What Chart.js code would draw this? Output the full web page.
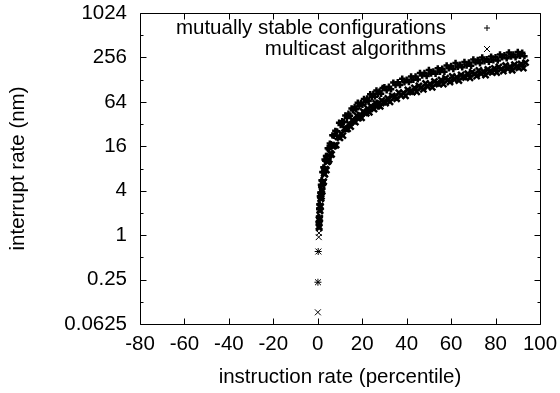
<!DOCTYPE html>
<html>
<head>
<meta charset="utf-8">
<style>
  body { margin: 0; background: #fff; }
  canvas { display: block; }
</style>
</head>
<body>
<canvas id="myChart" width="560" height="393"></canvas>
<script src="https://cdn.jsdelivr.net/npm/chart.js"></script>
<script>
  // mutually stable configurations (upper band, "+")
  const stableX = [0.07, 0.19,
    0.45, 0.5, 0.55, 0.6, 0.66, 0.73, 0.8, 0.88, 0.97, 1.07, 1.18, 1.3, 1.43, 1.57, 1.73, 1.9,
    2.09, 2.3, 2.53, 2.78, 3.06, 3.37, 3.7, 4.07, 4.48, 4.93, 5.42, 5.96, 6.56, 7.2, 7.9, 8.7, 9.6,
    10.3, 11.0, 11.7, 12.4, 13.1, 13.8, 14.5, 15.2, 15.9, 16.6, 17.3, 18.0, 18.7, 19.4, 20.1,
    20.8, 21.5, 22.2, 22.9, 23.6, 24.3, 25.0, 25.7, 26.4, 27.1, 27.8, 28.5, 29.2,
    30, 31, 32, 33, 34, 35, 36, 37, 38, 39, 40, 41, 42, 43, 44, 45, 46, 47, 48, 49,
    50, 51, 52, 53, 54, 55, 56, 57, 58, 59, 60, 61, 62, 63, 64, 65, 66, 67, 68, 69,
    70, 71, 72, 73, 74, 75, 76, 77, 78, 79, 80, 81, 82, 83, 84, 85, 86, 87, 88, 89,
    90, 91, 92, 93];
  const stableY = [0.23, 0.6,
    1.52, 1.48, 1.77, 1.72, 2.27, 2.25, 2.62, 2.58, 3.36, 3.24, 3.75, 3.77, 4.82, 4.65, 5.56, 5.45,
    7.18, 7.1, 8.29, 8.14, 10.6, 10.2, 11.8, 11.8, 15.1, 14.6, 17.4, 17.1, 22.5, 22.2, 25.9, 25.5, 33.3,
    31.1, 35.0, 33.9, 41.8, 38.8, 44.3, 41.6, 52.2, 49.1, 54.4, 50.7, 62.4, 56.5, 61.7, 58.2,
    70.1, 63.7, 71.3, 65.6, 81.0, 75.0, 81.9, 75.3, 91.5, 82.0, 88.5, 82.6, 98.4,
    101.1, 91.8, 102.8, 94.6, 116.7, 108.0, 117.9, 108.4, 131.7, 117.9, 127.3, 118.8, 141.6, 127.3, 141.4, 129.0, 157.9, 145.1, 157.2, 143.5,
    173.3, 154.2, 165.4, 153.6, 182.0, 162.9, 179.9, 163.4, 199.1, 182.1, 196.6, 178.7, 214.8, 190.5, 203.6, 188.4, 222.5, 198.4, 218.5, 197.8,
    240.3, 219.2, 235.9, 213.9, 256.4, 226.8, 241.8, 223.1, 262.9, 233.9, 257.0, 232.2, 281.5, 256.2, 275.2, 249.0, 298.0, 263.1, 280.0, 257.9,
    303.3, 269.5, 295.6, 266.6];

  // multicast algorithms (lower band, "x")
  const multicastX = [0.04, 0.1, 0.28, 0.43,
    0.52, 0.57, 0.63, 0.69, 0.76, 0.84, 0.92, 1.01, 1.11, 1.22, 1.34, 1.48, 1.63, 1.79, 1.97, 2.17,
    2.39, 2.63, 2.89, 3.18, 3.5, 3.85, 4.23, 4.65, 5.12, 5.63, 6.2, 6.82, 7.5, 8.25, 9.07, 9.95,
    10.6, 11.3, 12.0, 12.7, 13.4, 14.1, 14.8, 15.5, 16.2, 16.9, 17.6, 18.3, 19.0, 19.7,
    20.4, 21.1, 21.8, 22.5, 23.2, 23.9, 24.6, 25.3, 26.0, 26.7, 27.4, 28.1, 28.8, 29.5,
    30.5, 31.5, 32.5, 33.5, 34.5, 35.5, 36.5, 37.5, 38.5, 39.5, 40.5, 41.5, 42.5, 43.5, 44.5, 45.5, 46.5, 47.5, 48.5, 49.5,
    50.5, 51.5, 52.5, 53.5, 54.5, 55.5, 56.5, 57.5, 58.5, 59.5, 60.5, 61.5, 62.5, 63.5, 64.5, 65.5, 66.5, 67.5, 68.5, 69.5,
    70.5, 71.5, 72.5, 73.5, 74.5, 75.5, 76.5, 77.5, 78.5, 79.5, 80.5, 81.5, 82.5, 83.5, 84.5, 85.5, 86.5, 87.5, 88.5, 89.5,
    90.5, 91.5, 92.5, 93.5];
  const multicastY = [0.09, 0.23, 0.6, 0.94,
    1.07, 1.31, 1.26, 1.62, 1.65, 1.7, 2.18, 2.13, 2.48, 2.41, 3.11, 3.18, 3.36, 4.12, 3.93, 5.09,
    5.19, 5.31, 6.84, 6.69, 7.82, 7.6, 9.82, 9.99, 10.6, 12.9, 12.4, 16.0, 16.3, 16.6, 21.5, 20.9,
    23.7, 22.3, 27.9, 27.3, 27.6, 32.4, 29.5, 36.3, 35.2, 34.1, 41.6, 38.5, 42.5, 38.9,
    47.4, 45.3, 44.9, 51.7, 46.3, 56.0, 53.4, 51.1, 61.5, 56.2, 61.3, 55.5, 66.9, 63.4,
    61.8, 71.3, 63.9, 77.3, 73.8, 70.6, 85.2, 77.9, 84.9, 77.0, 92.9, 88.1, 86.6, 98.9, 87.8, 105.5, 99.8, 94.9, 113.5, 103.1,
    111.8, 100.7, 120.7, 113.9, 111.3, 126.5, 111.8, 133.6, 125.9, 119.1, 141.9, 128.4, 138.6, 124.4, 148.6, 139.6, 136.1, 154.1, 135.8, 161.7,
    151.9, 143.3, 170.3, 153.7, 165.4, 148.1, 176.5, 165.4, 160.8, 181.7, 159.7, 189.8, 177.9, 167.5, 198.7, 178.9, 192.2, 171.8, 204.3, 191.2,
    185.5, 209.3, 183.7, 218.0];

  const xTicks = [-80, -60, -40, -20, 0, 20, 40, 60, 80, 100];
  const yTicks = [0.0625, 0.125, 0.25, 0.5, 1, 2, 4, 8, 16, 32, 64, 128, 256, 512, 1024];
  const yLabels = ['0.0625', '0.25', '1', '4', '16', '64', '256', '1024'];

  const toPoints = (xs, ys) => xs.map((x, i) => ({x: x, y: ys[i]}));
  const font = {family: "'Liberation Sans', Arial, sans-serif", size: 20.5};
  // the lone points near zero stay thin, the dense bands get heavier strokes
  const isLone = c => c.raw && c.raw.y < 1.2;

  // gnuplot style border with inward ticks on all four sides
  const frame = {
    id: 'frame',
    afterDatasetsDraw(chart) {
      const {ctx, chartArea: a, scales} = chart;
      const l = Math.round(a.left) + 0.5, r = Math.round(a.right) + 0.5;
      const t = Math.round(a.top) + 0.5, b = Math.round(a.bottom) + 0.5;
      ctx.save();
      ctx.strokeStyle = '#000';
      ctx.lineWidth = 1;
      ctx.beginPath();
      scales.x.ticks.forEach(tk => {
        const px = Math.round(scales.x.getPixelForValue(tk.value)) + 0.5;
        ctx.moveTo(px, b); ctx.lineTo(px, b - 6);
        ctx.moveTo(px, t); ctx.lineTo(px, t + 6);
      });
      scales.y.ticks.forEach(tk => {
        const len = yLabels.includes(String(tk.value)) ? 6 : 3;
        const py = Math.round(scales.y.getPixelForValue(tk.value)) + 0.5;
        ctx.moveTo(l, py); ctx.lineTo(l + len, py);
        ctx.moveTo(r, py); ctx.lineTo(r - len, py);
      });
      ctx.rect(l, t, r - l, b - t);
      ctx.stroke();
      ctx.restore();
    }
  };

  // key in the top right corner: text, then the marker to its right
  const key = {
    id: 'key',
    afterDraw(chart) {
      const ctx = chart.ctx;
      ctx.save();
      ctx.font = font.size + 'px ' + font.family;
      ctx.fillStyle = '#000';
      ctx.strokeStyle = '#000';
      ctx.lineWidth = 1;
      ctx.textAlign = 'right';
      ctx.textBaseline = 'middle';
      chart.data.datasets.forEach((ds, i) => {
        const y = 28 + i * 21;
        ctx.fillText(ds.label, 446, y);
        const mx = 487, d = 3;
        ctx.beginPath();
        if (ds.pointStyle === 'cross') {
          ctx.moveTo(mx - d, y); ctx.lineTo(mx + d, y);
          ctx.moveTo(mx, y - d); ctx.lineTo(mx, y + d);
        } else {
          ctx.moveTo(mx - d, y - d); ctx.lineTo(mx + d, y + d);
          ctx.moveTo(mx - d, y + d); ctx.lineTo(mx + d, y - d);
        }
        ctx.stroke();
      });
      ctx.restore();
    }
  };

  new Chart(document.getElementById('myChart'), {
    type: 'scatter',
    data: {
      datasets: [
        {
          label: 'mutually stable configurations',
          data: toPoints(stableX, stableY),
          pointStyle: 'cross',
          pointRadius: c => isLone(c) ? 3.5 : 3.2,
          borderWidth: c => isLone(c) ? 1 : 2.5,
          borderColor: '#000',
          backgroundColor: '#000'
        },
        {
          label: 'multicast algorithms',
          data: toPoints(multicastX, multicastY),
          pointStyle: 'crossRot',
          pointRadius: c => isLone(c) ? 4.2 : 4.3,
          borderWidth: c => isLone(c) ? 1 : 2.5,
          borderColor: '#000',
          backgroundColor: '#000'
        }
      ]
    },
    options: {
      responsive: false,
      animation: false,
      events: [],
      layout: {padding: {top: 13, right: 20, left: 0, bottom: 0}},
      scales: {
        x: {
          type: 'linear',
          min: -80,
          max: 100,
          afterBuildTicks: s => { s.ticks = xTicks.map(v => ({value: v})); },
          afterFit: s => { s.height = 69; s.paddingLeft = 0; s.paddingRight = 0; },
          grid: {display: false, drawTicks: false},
          border: {display: false},
          ticks: {color: '#000', font: font, padding: 8, autoSkip: false, maxRotation: 0,
            callback: v => String(v)},
          title: {display: true, text: 'instruction rate (percentile)', color: '#000', font: font,
            padding: {top: 0, bottom: 3}}
        },
        y: {
          type: 'logarithmic',
          min: 0.0625,
          max: 1024,
          afterBuildTicks: s => { s.ticks = yTicks.map(v => ({value: v})); },
          afterFit: s => { s.width = 140; s.paddingTop = 0; s.paddingBottom = 0; },
          grid: {display: false, drawTicks: false},
          border: {display: false},
          ticks: {color: '#000', font: font, padding: 13, autoSkip: false,
            callback: v => yLabels.includes(String(v)) ? String(v) : ''},
          title: {display: true, text: 'interrupt rate (nm)', color: '#000', font: font,
            padding: {top: 6, bottom: 0}}
        }
      },
      plugins: {
        legend: {display: false},
        tooltip: {enabled: false}
      }
    },
    plugins: [frame, key]
  });
</script>
</body>
</html>
